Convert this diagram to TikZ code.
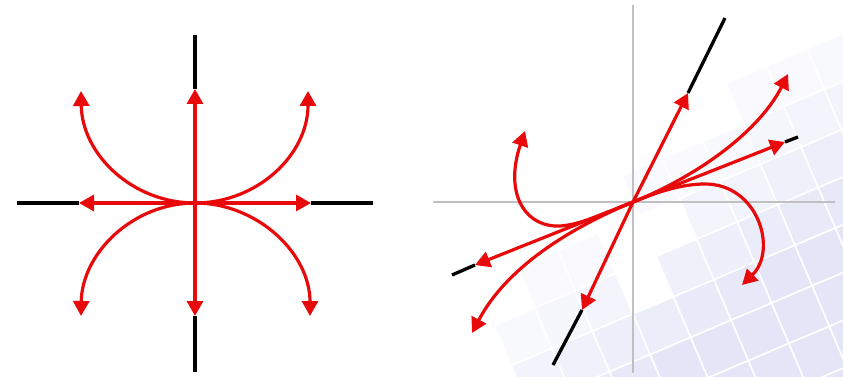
\documentclass[tikz,border=0pt]{standalone}
\usetikzlibrary{arrows.meta}
\definecolor{arrowred}{RGB}{232,10,10}
\definecolor{tilecol}{RGB}{228,230,247}
\definecolor{axisgray}{RGB}{192,192,192}
\tikzset{
  traj/.style={draw=arrowred, line width=3.2pt, -{Triangle[length=15pt,width=16pt]}},
  eig/.style={draw=black, line width=3.3pt},
  ax/.style={draw=axisgray, line width=2pt},
  tilebox/.style={fill=tilecol, draw=white, line width=1.6pt},
}
\begin{document}
\begin{tikzpicture}[x=1pt,y=-1pt]
\useasboundingbox (0,0) rectangle (843,377);
% ---------- background tiles (right panel) ----------
\begin{scope}
  \clip (420,0) rectangle (843,377);
  \pgfmathsetseed{12}
  \foreach \i in {-7,...,9}{
    \foreach \j in {-10,...,5}{
      \pgfmathsetmacro{\xa}{633+\i*40.5+\j*17.19}
      \pgfmathsetmacro{\ya}{314-\i*17.19+\j*40.5}
      \pgfmathsetmacro{\dd}{0.666*(\xa+28.85-540)+0.748*(\ya+11.66-320)}
      \pgfmathsetmacro{\rr}{rnd}
      \pgfmathsetmacro{\op}{((\dd < (-30)) || (\xa+28.85 < 508) || ((\rr < 0.3) && (\dd < 90))) ? 0 : min(1,max(0.18,(\dd+40)/170))}
      \filldraw[tilebox, fill opacity=\op] (\xa,\ya) -- ++(40.5,-17.19) -- ++(17.19,40.5) -- ++(-40.5,17.19) -- cycle;
    }
  }
\end{scope}
% ---------- left panel ----------
\coordinate (L) at (195,203);
\coordinate (Ltop) at (195,35);
\coordinate (Lbot) at (195,372);
\coordinate (Llft) at (17,203);
\coordinate (Lrgt) at (373,203);
\coordinate (Lu) at (195,89);
\coordinate (Ld) at (195,316);
\coordinate (Ll) at (79,203);
\coordinate (Lr) at (311,203);
\draw[eig, line width=4pt] (Lu) -- (Ltop);
\draw[eig, line width=4pt] (Ld) -- (Lbot);
\draw[eig, line width=4pt] (Ll) -- (Llft);
\draw[eig, line width=4pt] (Lr) -- (Lrgt);
\draw[traj] (L) -- (Lu);
\draw[traj] (L) -- (Ld);
\draw[traj] (L) -- (Ll);
\draw[traj] (L) -- (Lr);
\coordinate (Lul) at (81,91);
\coordinate (Lur) at (308,91);
\coordinate (Ldl) at (81,316);
\coordinate (Ldr) at (310,316);
\draw[traj] (L) .. controls (133,203) and (82,155) .. (Lul);
\draw[traj] (L) .. controls (257,203) and (308,155) .. (Lur);
\draw[traj] (L) .. controls (133,203) and (82,253) .. (Ldl);
\draw[traj] (L) .. controls (257,203) and (310,253) .. (Ldr);
% ---------- right panel ----------
\coordinate (O) at (633,202);
\coordinate (Avt) at (633,5);
\coordinate (Avb) at (633,373);
\coordinate (Ahl) at (433,202);
\coordinate (Ahr) at (835,202);
\draw[ax] (Avt) -- (Avb);
\draw[ax] (Ahl) -- (Ahr);
\coordinate (S1) at (553,365);
\coordinate (S2) at (725,18);
\coordinate (F1) at (452,275);
\coordinate (F2) at (798,137);
\coordinate (Su) at (688,93);
\coordinate (Sd) at (582,310);
\coordinate (Fr) at (785,142);
\coordinate (Fl) at (475,265);
\draw[eig] (Sd) -- (S1);
\draw[eig] (Su) -- (S2);
\draw[eig] (Fl) -- (F1);
\draw[eig] (Fr) -- (F2);
\draw[traj] (O) -- (Su);
\draw[traj] (O) -- (Sd);
\draw[traj] (O) -- (Fr);
\draw[traj] (O) -- (Fl);
\coordinate (Cur) at (788,74);
\coordinate (Cdl) at (472,333);
\coordinate (Cul) at (525,131);
\coordinate (Cdr) at (742,285);
\draw[traj] (O) .. controls (700,175) and (760,130) .. (Cur);
\draw[traj] (O) .. controls (565,230) and (505,270) .. (Cdl);
\draw[traj] (O) .. controls (600,215) and (575,227) .. (555,226) .. controls (522,224) and (505,190) .. (Cul);
\draw[traj] (O) .. controls (655,193) and (680,184) .. (705,184) .. controls (758,184) and (778,250) .. (Cdr);
\end{tikzpicture}
\end{document}
